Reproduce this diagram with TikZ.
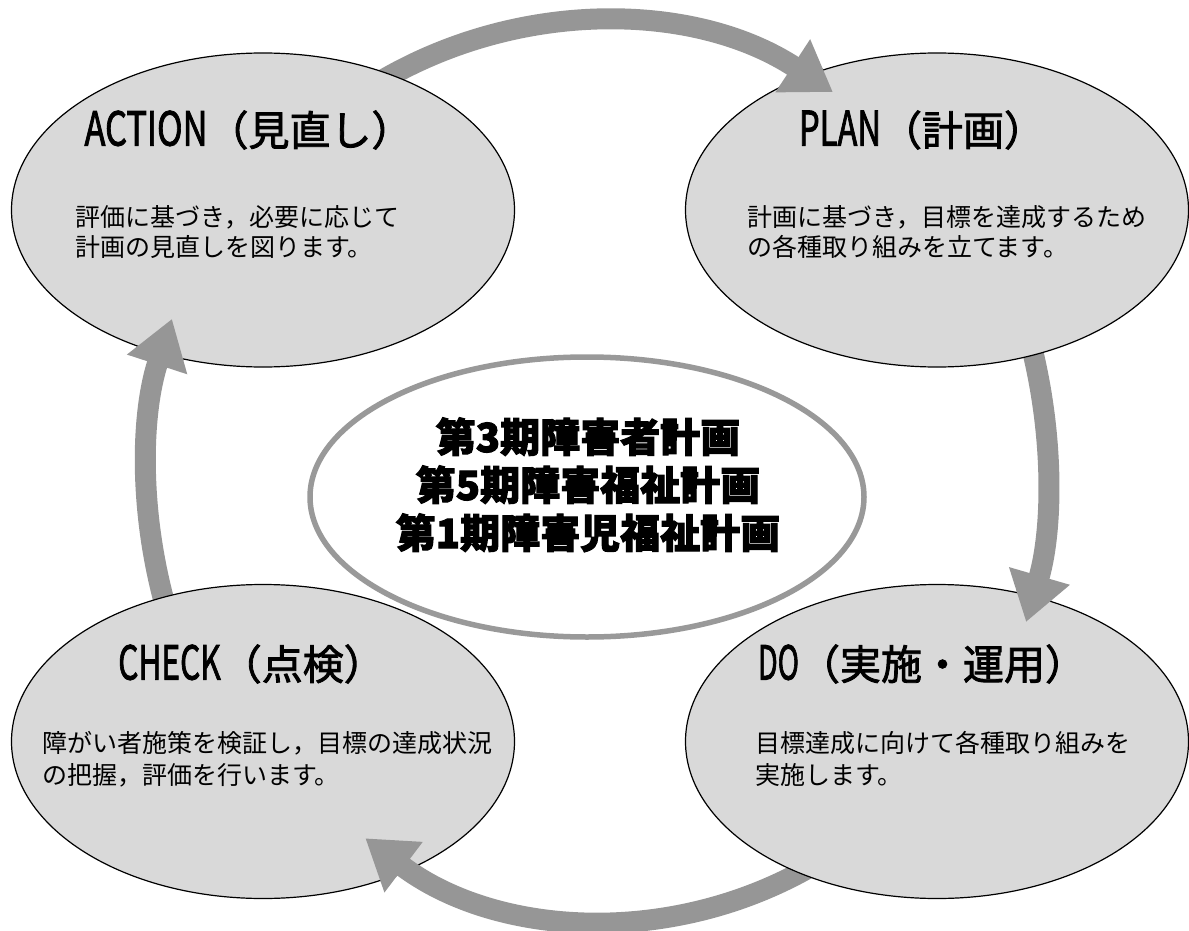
\documentclass[tikz,border=0pt]{standalone}
\usepackage{fontspec}
\usepackage{graphicx}
\setmainfont{Noto Sans CJK JP}
\newfontfamily\popfont{Noto Sans CJK JP}[FakeBold=2.5]
\newfontfamily\titlefont{Noto Sans CJK JP}[FakeBold=2]
\usetikzlibrary{shapes.geometric,arrows.meta}
\definecolor{ellfill}{HTML}{D9D9D9}
\definecolor{arrowgray}{HTML}{969696}
\definecolor{ringgray}{HTML}{999999}
\newcommand\narrowlat[2]{\resizebox{#2pt}{35pt}{#1}}
\tikzset{
  bubble/.style={ellipse, draw=black, line width=1.2pt, fill=ellfill,
    minimum width=503pt, minimum height=314pt, inner sep=0pt},
  corering/.style={ellipse, draw=ringgray, line width=5.5pt, fill=white,
    minimum width=554pt, minimum height=280pt, inner sep=0pt},
  flow/.style={line width=21pt, draw=arrowgray, -{Triangle[width=60pt,length=48pt]}},
  ttl/.style={anchor=base, inner sep=0pt, font=\titlefont\fontsize{41}{41}\selectfont},
  bodyline/.style={anchor=base west, inner sep=0pt, font=\fontsize{25}{25}\selectfont},
  coreline/.style={anchor=base, inner sep=0pt, font=\popfont\bfseries\fontsize{40}{40}\selectfont}
}
\begin{document}
\begin{tikzpicture}[x=1pt,y=-1pt]
\useasboundingbox (0,0) rectangle (1189,931);

% start points of the curved arrows (inside their source ellipses)
\coordinate (topstart) at (370.7,87.2);
\coordinate (rightstart) at (1026.6,328.2);
\coordinate (bottomstart) at (824.1,858.7);
\coordinate (leftstart) at (171.7,627.1);

% arrows, first pass (under the ellipses)
\draw[flow] (topstart) arc[start angle=-122, end angle=-56.8, radius=429];
\draw[flow] (rightstart) arc[start angle=-16, end angle=16.2, radius=529.8];
\draw[flow] (bottomstart) arc[start angle=58, end angle=127.1, radius=404.9];
\draw[flow] (leftstart) arc[start angle=162, end angle=198.1, radius=497.5];

% ellipses
\node[bubble] (action) at (263,210) {};
\node[bubble] (plan) at (937,210) {};
\node[bubble] (check) at (263,741.5) {};
\node[bubble] (do) at (937,741.5) {};
\node[corering] (core) at (587,497) {};

% arrow heads over their target ellipses
\begin{scope}
  \clip (plan.center) ellipse [x radius=254, y radius=159];
  \draw[flow] (topstart) arc[start angle=-122, end angle=-56.8, radius=429];
\end{scope}
\begin{scope}
  \clip (do.center) ellipse [x radius=254, y radius=159];
  \draw[flow] (rightstart) arc[start angle=-16, end angle=16.2, radius=529.8];
\end{scope}
\begin{scope}
  \clip (check.center) ellipse [x radius=254, y radius=159];
  \draw[flow] (bottomstart) arc[start angle=58, end angle=127.1, radius=404.9];
\end{scope}
\begin{scope}
  \clip (action.center) ellipse [x radius=254, y radius=159];
  \draw[flow] (leftstart) arc[start angle=162, end angle=198.1, radius=497.5];
\end{scope}

% titles
\node[ttl] (actiontitle) at (248.5,145.6) {\narrowlat{ACTION}{123}（見直し）};
\node[ttl] (plantitle) at (922,145.6) {\narrowlat{PLAN}{82}（計画）};
\node[ttl] (checktitle) at (251.5,679.6) {\narrowlat{CHECK}{102.5}（点検）};
\node[ttl] (dotitle) at (922,679.6) {\narrowlat{DO}{41}（実施・運用）};

% body texts
\node[bodyline] (actionl1) at (75,226.5) {評価に基づき，必要に応じて};
\node[bodyline] (actionl2) at (75,256.5) {計画の見直しを図ります。};
\node[bodyline] (planl1) at (747,226.5) {計画に基づき，目標を達成するため};
\node[bodyline] (planl2) at (747,256.5) {の各種取り組みを立てます。};
\node[bodyline] (checkl1) at (42,752.5) {障がい者施策を検証し，目標の達成状況};
\node[bodyline] (checkl2) at (42,784.5) {の把握，評価を行います。};
\node[bodyline] (dol1) at (755,752.5) {目標達成に向けて各種取り組みを};
\node[bodyline] (dol2) at (755,784.5) {実施します。};

% centre text
\node[coreline] (core1) at (588,452) {第3期障害者計画};
\node[coreline] (core2) at (588,500) {第5期障害福祉計画};
\node[coreline] (core3) at (588,548) {第1期障害児福祉計画};
\end{tikzpicture}
\end{document}
